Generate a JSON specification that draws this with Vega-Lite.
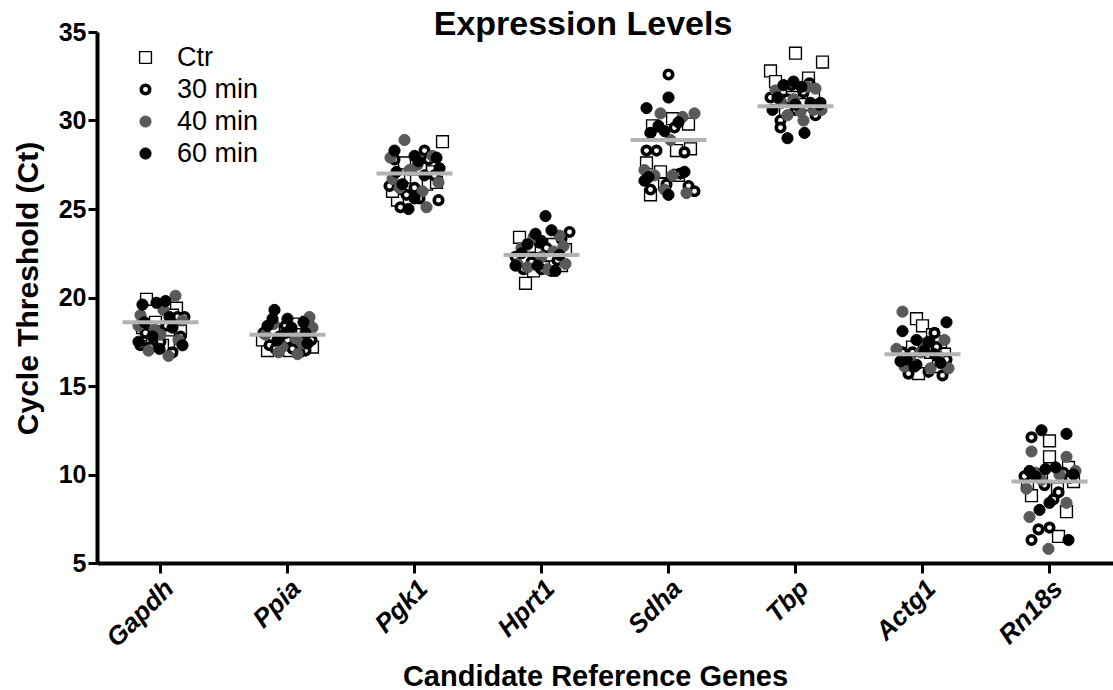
{
  "$schema": "https://vega.github.io/schema/vega-lite/v6.json",
  "autosize": {"type": "none"},
  "padding": {"left": 97, "top": 32, "right": 0, "bottom": 127},
  "width": 1016,
  "height": 531,
  "background": "white",
  "config": {
    "font": "Liberation Sans",
    "view": {"stroke": null},
    "axis": {"grid": false, "domainColor": "black", "tickColor": "black", "labelColor": "black", "titleColor": "black"},
    "legend": {"title": null, "orient": "none", "legendX": 35, "legendY": 12, "labelFontSize": 27, "labelColor": "black", "rowPadding": 4, "labelOffset": 18, "labelFont": "Liberation Sans"}
  },
  "title": {"text": "Expression Levels", "fontSize": 34, "fontWeight": "bold", "font": "Liberation Sans", "color": "black", "anchor": "middle", "frame": "group", "offset": -22, "dx": -22},
  "datasets": {
    "pts": [
      {"g":"Gapdh","t":"Ctr","y":19.9,"j":-14},{"g":"Gapdh","t":"Ctr","y":19.4,"j":16},{"g":"Gapdh","t":"Ctr","y":19.0,"j":12},{"g":"Gapdh","t":"Ctr","y":18.6,"j":-5},{"g":"Gapdh","t":"Ctr","y":17.9,"j":-12},{"g":"Gapdh","t":"Ctr","y":17.5,"j":8},{"g":"Gapdh","t":"Ctr","y":18.3,"j":-18},{"g":"Gapdh","t":"Ctr","y":18.1,"j":20},{"g":"Gapdh","t":"Ctr","y":17.3,"j":2},{"g":"Gapdh","t":"Ctr","y":17.6,"j":-8},
      {"g":"Gapdh","t":"30 min","y":18.9,"j":17},{"g":"Gapdh","t":"30 min","y":17.2,"j":-10},{"g":"Gapdh","t":"30 min","y":17.5,"j":0},{"g":"Gapdh","t":"30 min","y":17.3,"j":-20},{"g":"Gapdh","t":"30 min","y":16.9,"j":12},{"g":"Gapdh","t":"30 min","y":18.1,"j":-2},{"g":"Gapdh","t":"30 min","y":17.8,"j":20},{"g":"Gapdh","t":"30 min","y":18.4,"j":6},{"g":"Gapdh","t":"30 min","y":18.0,"j":-15},{"g":"Gapdh","t":"30 min","y":18.9,"j":24},
      {"g":"Gapdh","t":"40 min","y":20.1,"j":15},{"g":"Gapdh","t":"40 min","y":19.0,"j":-20},{"g":"Gapdh","t":"40 min","y":16.7,"j":8},{"g":"Gapdh","t":"40 min","y":18.2,"j":-6},{"g":"Gapdh","t":"40 min","y":18.4,"j":-22},{"g":"Gapdh","t":"40 min","y":17.6,"j":18},{"g":"Gapdh","t":"40 min","y":19.3,"j":3},{"g":"Gapdh","t":"40 min","y":17.0,"j":-12},{"g":"Gapdh","t":"40 min","y":18.7,"j":22},{"g":"Gapdh","t":"40 min","y":17.9,"j":0},
      {"g":"Gapdh","t":"60 min","y":19.6,"j":-18},{"g":"Gapdh","t":"60 min","y":19.7,"j":-4},{"g":"Gapdh","t":"60 min","y":19.8,"j":5},{"g":"Gapdh","t":"60 min","y":18.3,"j":12},{"g":"Gapdh","t":"60 min","y":17.5,"j":-22},{"g":"Gapdh","t":"60 min","y":17.8,"j":-8},{"g":"Gapdh","t":"60 min","y":17.3,"j":22},{"g":"Gapdh","t":"60 min","y":18.6,"j":-16},{"g":"Gapdh","t":"60 min","y":18.9,"j":9},{"g":"Gapdh","t":"60 min","y":17.1,"j":-1},

      {"g":"Ppia","t":"Ctr","y":17.0,"j":-20},{"g":"Ppia","t":"Ctr","y":17.2,"j":25},{"g":"Ppia","t":"Ctr","y":18.5,"j":8},{"g":"Ppia","t":"Ctr","y":17.4,"j":-6},{"g":"Ppia","t":"Ctr","y":17.9,"j":15},{"g":"Ppia","t":"Ctr","y":18.2,"j":-14},{"g":"Ppia","t":"Ctr","y":17.0,"j":2},{"g":"Ppia","t":"Ctr","y":18.6,"j":20},{"g":"Ppia","t":"Ctr","y":17.6,"j":-25},{"g":"Ppia","t":"Ctr","y":17.3,"j":10},
      {"g":"Ppia","t":"30 min","y":17.3,"j":-18},{"g":"Ppia","t":"30 min","y":17.1,"j":5},{"g":"Ppia","t":"30 min","y":17.8,"j":-8},{"g":"Ppia","t":"30 min","y":17.0,"j":18},{"g":"Ppia","t":"30 min","y":18.4,"j":-2},{"g":"Ppia","t":"30 min","y":17.6,"j":24},{"g":"Ppia","t":"30 min","y":18.0,"j":-24},{"g":"Ppia","t":"30 min","y":16.9,"j":12},{"g":"Ppia","t":"30 min","y":17.6,"j":0},{"g":"Ppia","t":"30 min","y":17.1,"j":-12},
      {"g":"Ppia","t":"40 min","y":16.8,"j":10},{"g":"Ppia","t":"40 min","y":17.9,"j":-22},{"g":"Ppia","t":"40 min","y":18.9,"j":22},{"g":"Ppia","t":"40 min","y":17.2,"j":-5},{"g":"Ppia","t":"40 min","y":17.4,"j":15},{"g":"Ppia","t":"40 min","y":18.5,"j":-14},{"g":"Ppia","t":"40 min","y":18.2,"j":3},{"g":"Ppia","t":"40 min","y":18.3,"j":25},{"g":"Ppia","t":"40 min","y":16.9,"j":-9},{"g":"Ppia","t":"40 min","y":17.7,"j":8},
      {"g":"Ppia","t":"60 min","y":19.3,"j":-13},{"g":"Ppia","t":"60 min","y":18.8,"j":-15},{"g":"Ppia","t":"60 min","y":18.8,"j":0},{"g":"Ppia","t":"60 min","y":18.3,"j":4},{"g":"Ppia","t":"60 min","y":18.6,"j":16},{"g":"Ppia","t":"60 min","y":18.0,"j":18},{"g":"Ppia","t":"60 min","y":18.4,"j":-20},{"g":"Ppia","t":"60 min","y":18.0,"j":-2},{"g":"Ppia","t":"60 min","y":17.4,"j":20},{"g":"Ppia","t":"60 min","y":17.6,"j":-10},

      {"g":"Pgk1","t":"Ctr","y":28.8,"j":28},{"g":"Pgk1","t":"Ctr","y":25.5,"j":-17},{"g":"Pgk1","t":"Ctr","y":27.3,"j":6},{"g":"Pgk1","t":"Ctr","y":26.8,"j":-4},{"g":"Pgk1","t":"Ctr","y":26.4,"j":12},{"g":"Pgk1","t":"Ctr","y":27.6,"j":-10},{"g":"Pgk1","t":"Ctr","y":27.1,"j":18},{"g":"Pgk1","t":"Ctr","y":26.0,"j":-22},{"g":"Pgk1","t":"Ctr","y":26.6,"j":2},{"g":"Pgk1","t":"Ctr","y":26.5,"j":22},
      {"g":"Pgk1","t":"30 min","y":27.8,"j":-20},{"g":"Pgk1","t":"30 min","y":28.3,"j":10},{"g":"Pgk1","t":"30 min","y":25.8,"j":-8},{"g":"Pgk1","t":"30 min","y":25.1,"j":-14},{"g":"Pgk1","t":"30 min","y":25.6,"j":5},{"g":"Pgk1","t":"30 min","y":25.5,"j":24},{"g":"Pgk1","t":"30 min","y":26.2,"j":0},{"g":"Pgk1","t":"30 min","y":27.8,"j":14},{"g":"Pgk1","t":"30 min","y":26.3,"j":-25},{"g":"Pgk1","t":"30 min","y":26.9,"j":20},
      {"g":"Pgk1","t":"40 min","y":28.9,"j":-10},{"g":"Pgk1","t":"40 min","y":27.9,"j":-24},{"g":"Pgk1","t":"40 min","y":28.0,"j":18},{"g":"Pgk1","t":"40 min","y":26.7,"j":-22},{"g":"Pgk1","t":"40 min","y":26.0,"j":8},{"g":"Pgk1","t":"40 min","y":26.5,"j":24},{"g":"Pgk1","t":"40 min","y":25.1,"j":12},{"g":"Pgk1","t":"40 min","y":27.2,"j":-5},{"g":"Pgk1","t":"40 min","y":26.2,"j":-15},{"g":"Pgk1","t":"40 min","y":27.5,"j":3},
      {"g":"Pgk1","t":"60 min","y":28.3,"j":-20},{"g":"Pgk1","t":"60 min","y":28.0,"j":0},{"g":"Pgk1","t":"60 min","y":27.7,"j":4},{"g":"Pgk1","t":"60 min","y":27.9,"j":22},{"g":"Pgk1","t":"60 min","y":27.3,"j":25},{"g":"Pgk1","t":"60 min","y":25.0,"j":-6},{"g":"Pgk1","t":"60 min","y":25.6,"j":0},{"g":"Pgk1","t":"60 min","y":26.4,"j":-12},{"g":"Pgk1","t":"60 min","y":26.9,"j":10},{"g":"Pgk1","t":"60 min","y":27.1,"j":-18},

      {"g":"Hprt1","t":"Ctr","y":23.4,"j":-22},{"g":"Hprt1","t":"Ctr","y":20.8,"j":-16},{"g":"Hprt1","t":"Ctr","y":23.0,"j":12},{"g":"Hprt1","t":"Ctr","y":22.2,"j":-4},{"g":"Hprt1","t":"Ctr","y":22.4,"j":8},{"g":"Hprt1","t":"Ctr","y":21.8,"j":20},{"g":"Hprt1","t":"Ctr","y":22.9,"j":-12},{"g":"Hprt1","t":"Ctr","y":21.7,"j":2},{"g":"Hprt1","t":"Ctr","y":22.7,"j":24},{"g":"Hprt1","t":"Ctr","y":21.5,"j":-8},
      {"g":"Hprt1","t":"30 min","y":23.7,"j":28},{"g":"Hprt1","t":"30 min","y":21.6,"j":-18},{"g":"Hprt1","t":"30 min","y":21.5,"j":10},{"g":"Hprt1","t":"30 min","y":23.1,"j":-2},{"g":"Hprt1","t":"30 min","y":22.1,"j":16},{"g":"Hprt1","t":"30 min","y":22.3,"j":-26},{"g":"Hprt1","t":"30 min","y":22.8,"j":5},{"g":"Hprt1","t":"30 min","y":23.3,"j":20},{"g":"Hprt1","t":"30 min","y":22.0,"j":-10},{"g":"Hprt1","t":"30 min","y":21.6,"j":0},
      {"g":"Hprt1","t":"40 min","y":23.5,"j":18},{"g":"Hprt1","t":"40 min","y":22.8,"j":-20},{"g":"Hprt1","t":"40 min","y":21.6,"j":6},{"g":"Hprt1","t":"40 min","y":23.4,"j":-8},{"g":"Hprt1","t":"40 min","y":21.9,"j":24},{"g":"Hprt1","t":"40 min","y":21.7,"j":-14},{"g":"Hprt1","t":"40 min","y":22.6,"j":12},{"g":"Hprt1","t":"40 min","y":22.3,"j":0},{"g":"Hprt1","t":"40 min","y":21.9,"j":-24},{"g":"Hprt1","t":"40 min","y":22.9,"j":22},
      {"g":"Hprt1","t":"60 min","y":24.6,"j":4},{"g":"Hprt1","t":"60 min","y":23.6,"j":-6},{"g":"Hprt1","t":"60 min","y":23.0,"j":-14},{"g":"Hprt1","t":"60 min","y":23.8,"j":10},{"g":"Hprt1","t":"60 min","y":23.2,"j":0},{"g":"Hprt1","t":"60 min","y":22.5,"j":-20},{"g":"Hprt1","t":"60 min","y":22.4,"j":18},{"g":"Hprt1","t":"60 min","y":21.8,"j":-4},{"g":"Hprt1","t":"60 min","y":21.5,"j":14},{"g":"Hprt1","t":"60 min","y":21.8,"j":-26},

      {"g":"Sdha","t":"Ctr","y":29.7,"j":-16},{"g":"Sdha","t":"Ctr","y":30.1,"j":4},{"g":"Sdha","t":"Ctr","y":29.8,"j":20},{"g":"Sdha","t":"Ctr","y":27.6,"j":-22},{"g":"Sdha","t":"Ctr","y":27.1,"j":-8},{"g":"Sdha","t":"Ctr","y":26.9,"j":10},{"g":"Sdha","t":"Ctr","y":28.4,"j":22},{"g":"Sdha","t":"Ctr","y":26.4,"j":-4},{"g":"Sdha","t":"Ctr","y":25.8,"j":-18},{"g":"Sdha","t":"Ctr","y":28.3,"j":8},
      {"g":"Sdha","t":"30 min","y":32.6,"j":0},{"g":"Sdha","t":"30 min","y":28.3,"j":-22},{"g":"Sdha","t":"30 min","y":28.3,"j":-12},{"g":"Sdha","t":"30 min","y":28.2,"j":16},{"g":"Sdha","t":"30 min","y":26.4,"j":-2},{"g":"Sdha","t":"30 min","y":26.1,"j":-18},{"g":"Sdha","t":"30 min","y":27.0,"j":12},{"g":"Sdha","t":"30 min","y":26.3,"j":20},{"g":"Sdha","t":"30 min","y":26.0,"j":26},{"g":"Sdha","t":"30 min","y":29.6,"j":6},
      {"g":"Sdha","t":"40 min","y":30.4,"j":-8},{"g":"Sdha","t":"40 min","y":30.2,"j":14},{"g":"Sdha","t":"40 min","y":30.4,"j":26},{"g":"Sdha","t":"40 min","y":29.3,"j":-18},{"g":"Sdha","t":"40 min","y":28.9,"j":2},{"g":"Sdha","t":"40 min","y":27.2,"j":-24},{"g":"Sdha","t":"40 min","y":26.9,"j":4},{"g":"Sdha","t":"40 min","y":26.1,"j":-4},{"g":"Sdha","t":"40 min","y":25.9,"j":18},{"g":"Sdha","t":"40 min","y":26.9,"j":-14},
      {"g":"Sdha","t":"60 min","y":31.3,"j":0},{"g":"Sdha","t":"60 min","y":30.7,"j":-22},{"g":"Sdha","t":"60 min","y":29.7,"j":-10},{"g":"Sdha","t":"60 min","y":29.3,"j":-18},{"g":"Sdha","t":"60 min","y":29.4,"j":-4},{"g":"Sdha","t":"60 min","y":29.9,"j":10},{"g":"Sdha","t":"60 min","y":26.6,"j":-24},{"g":"Sdha","t":"60 min","y":26.8,"j":-20},{"g":"Sdha","t":"60 min","y":25.8,"j":0},{"g":"Sdha","t":"60 min","y":27.1,"j":16},

      {"g":"Tbp","t":"Ctr","y":33.8,"j":0},{"g":"Tbp","t":"Ctr","y":33.3,"j":27},{"g":"Tbp","t":"Ctr","y":32.8,"j":-25},{"g":"Tbp","t":"Ctr","y":31.8,"j":-15},{"g":"Tbp","t":"Ctr","y":32.4,"j":13},{"g":"Tbp","t":"Ctr","y":31.3,"j":-3},{"g":"Tbp","t":"Ctr","y":30.9,"j":8},{"g":"Tbp","t":"Ctr","y":31.5,"j":18},{"g":"Tbp","t":"Ctr","y":30.5,"j":-10},{"g":"Tbp","t":"Ctr","y":32.2,"j":-20},
      {"g":"Tbp","t":"30 min","y":30.0,"j":-15},{"g":"Tbp","t":"30 min","y":29.6,"j":-15},{"g":"Tbp","t":"30 min","y":31.2,"j":-8},{"g":"Tbp","t":"30 min","y":31.6,"j":8},{"g":"Tbp","t":"30 min","y":31.0,"j":25},{"g":"Tbp","t":"30 min","y":32.1,"j":14},{"g":"Tbp","t":"30 min","y":31.3,"j":-25},{"g":"Tbp","t":"30 min","y":30.6,"j":0},{"g":"Tbp","t":"30 min","y":30.3,"j":20},{"g":"Tbp","t":"30 min","y":32.0,"j":-4},
      {"g":"Tbp","t":"40 min","y":30.3,"j":-8},{"g":"Tbp","t":"40 min","y":30.5,"j":5},{"g":"Tbp","t":"40 min","y":31.9,"j":12},{"g":"Tbp","t":"40 min","y":31.8,"j":20},{"g":"Tbp","t":"40 min","y":31.7,"j":-20},{"g":"Tbp","t":"40 min","y":31.2,"j":-2},{"g":"Tbp","t":"40 min","y":30.6,"j":26},{"g":"Tbp","t":"40 min","y":31.0,"j":-14},{"g":"Tbp","t":"40 min","y":30.0,"j":8},{"g":"Tbp","t":"40 min","y":30.6,"j":18},
      {"g":"Tbp","t":"60 min","y":29.0,"j":-8},{"g":"Tbp","t":"60 min","y":29.3,"j":9},{"g":"Tbp","t":"60 min","y":30.6,"j":-23},{"g":"Tbp","t":"60 min","y":32.0,"j":-12},{"g":"Tbp","t":"60 min","y":32.2,"j":-2},{"g":"Tbp","t":"60 min","y":31.9,"j":6},{"g":"Tbp","t":"60 min","y":31.0,"j":15},{"g":"Tbp","t":"60 min","y":31.3,"j":-18},{"g":"Tbp","t":"60 min","y":30.9,"j":0},{"g":"Tbp","t":"60 min","y":30.9,"j":24},

      {"g":"Actg1","t":"Ctr","y":18.8,"j":-6},{"g":"Actg1","t":"Ctr","y":18.4,"j":0},{"g":"Actg1","t":"Ctr","y":17.9,"j":10},{"g":"Actg1","t":"Ctr","y":17.5,"j":18},{"g":"Actg1","t":"Ctr","y":16.9,"j":8},{"g":"Actg1","t":"Ctr","y":17.2,"j":-10},{"g":"Actg1","t":"Ctr","y":15.7,"j":-4},{"g":"Actg1","t":"Ctr","y":16.1,"j":16},{"g":"Actg1","t":"Ctr","y":16.8,"j":22},{"g":"Actg1","t":"Ctr","y":16.5,"j":-14},
      {"g":"Actg1","t":"30 min","y":15.7,"j":-14},{"g":"Actg1","t":"30 min","y":15.8,"j":6},{"g":"Actg1","t":"30 min","y":15.6,"j":20},{"g":"Actg1","t":"30 min","y":18.0,"j":12},{"g":"Actg1","t":"30 min","y":17.0,"j":0},{"g":"Actg1","t":"30 min","y":16.9,"j":-20},{"g":"Actg1","t":"30 min","y":16.2,"j":-6},{"g":"Actg1","t":"30 min","y":16.5,"j":24},{"g":"Actg1","t":"30 min","y":16.9,"j":-10},{"g":"Actg1","t":"30 min","y":17.2,"j":14},
      {"g":"Actg1","t":"40 min","y":19.2,"j":-20},{"g":"Actg1","t":"40 min","y":16.0,"j":8},{"g":"Actg1","t":"40 min","y":16.0,"j":26},{"g":"Actg1","t":"40 min","y":17.1,"j":-26},{"g":"Actg1","t":"40 min","y":17.4,"j":2},{"g":"Actg1","t":"40 min","y":16.4,"j":-12},{"g":"Actg1","t":"40 min","y":16.7,"j":16},{"g":"Actg1","t":"40 min","y":16.9,"j":-2},{"g":"Actg1","t":"40 min","y":17.6,"j":22},{"g":"Actg1","t":"40 min","y":16.1,"j":-18},
      {"g":"Actg1","t":"60 min","y":18.6,"j":24},{"g":"Actg1","t":"60 min","y":18.1,"j":-20},{"g":"Actg1","t":"60 min","y":16.5,"j":-16},{"g":"Actg1","t":"60 min","y":17.6,"j":-6},{"g":"Actg1","t":"60 min","y":17.0,"j":2},{"g":"Actg1","t":"60 min","y":16.8,"j":12},{"g":"Actg1","t":"60 min","y":16.4,"j":-22},{"g":"Actg1","t":"60 min","y":16.1,"j":-8},{"g":"Actg1","t":"60 min","y":16.3,"j":18},{"g":"Actg1","t":"60 min","y":17.5,"j":6},

      {"g":"Rn18s","t":"Ctr","y":11.9,"j":0},{"g":"Rn18s","t":"Ctr","y":11.0,"j":0},{"g":"Rn18s","t":"Ctr","y":10.4,"j":19},{"g":"Rn18s","t":"Ctr","y":8.8,"j":-18},{"g":"Rn18s","t":"Ctr","y":7.9,"j":17},{"g":"Rn18s","t":"Ctr","y":6.5,"j":9},{"g":"Rn18s","t":"Ctr","y":10.0,"j":-8},{"g":"Rn18s","t":"Ctr","y":9.6,"j":24},{"g":"Rn18s","t":"Ctr","y":9.2,"j":8},{"g":"Rn18s","t":"Ctr","y":9.5,"j":-22},
      {"g":"Rn18s","t":"30 min","y":12.1,"j":-18},{"g":"Rn18s","t":"30 min","y":9.0,"j":9},{"g":"Rn18s","t":"30 min","y":6.9,"j":-11},{"g":"Rn18s","t":"30 min","y":7.0,"j":0},{"g":"Rn18s","t":"30 min","y":6.3,"j":-18},{"g":"Rn18s","t":"30 min","y":9.4,"j":-5},{"g":"Rn18s","t":"30 min","y":9.8,"j":20},{"g":"Rn18s","t":"30 min","y":9.9,"j":-25},{"g":"Rn18s","t":"30 min","y":10.1,"j":14},{"g":"Rn18s","t":"30 min","y":8.6,"j":4},
      {"g":"Rn18s","t":"40 min","y":11.3,"j":-18},{"g":"Rn18s","t":"40 min","y":11.0,"j":17},{"g":"Rn18s","t":"40 min","y":9.2,"j":-23},{"g":"Rn18s","t":"40 min","y":8.4,"j":17},{"g":"Rn18s","t":"40 min","y":7.6,"j":-20},{"g":"Rn18s","t":"40 min","y":5.8,"j":-1},{"g":"Rn18s","t":"40 min","y":10.0,"j":10},{"g":"Rn18s","t":"40 min","y":9.7,"j":-8},{"g":"Rn18s","t":"40 min","y":10.2,"j":26},{"g":"Rn18s","t":"40 min","y":10.1,"j":-14},
      {"g":"Rn18s","t":"60 min","y":12.5,"j":-8},{"g":"Rn18s","t":"60 min","y":12.3,"j":17},{"g":"Rn18s","t":"60 min","y":8.4,"j":0},{"g":"Rn18s","t":"60 min","y":8.0,"j":-10},{"g":"Rn18s","t":"60 min","y":6.3,"j":19},{"g":"Rn18s","t":"60 min","y":10.2,"j":-20},{"g":"Rn18s","t":"60 min","y":10.3,"j":-4},{"g":"Rn18s","t":"60 min","y":10.4,"j":6},{"g":"Rn18s","t":"60 min","y":10.0,"j":24},{"g":"Rn18s","t":"60 min","y":9.9,"j":-14}
    ],
    "means": [
      {"g":"Gapdh","m":18.6},{"g":"Ppia","m":17.9},{"g":"Pgk1","m":27.0},{"g":"Hprt1","m":22.4},
      {"g":"Sdha","m":28.9},{"g":"Tbp","m":30.8},{"g":"Actg1","m":16.8},{"g":"Rn18s","m":9.6}
    ]
  },
  "layer": [
    {
      "data": {"name": "pts"},
      "mark": {"type": "point", "opacity": 1, "filled": false},
      "encoding": {
        "x": {
          "field": "g", "type": "nominal",
          "scale": {"domain": ["Gapdh","Ppia","Pgk1","Hprt1","Sdha","Tbp","Actg1","Rn18s"], "paddingInner": 0, "paddingOuter": 0},
          "axis": {
            "title": "Candidate Reference Genes", "titleFontSize": 29, "titleFontWeight": "bold",
            "titleX": 498, "titleY": 122, "titleAlign": "center", "titleBaseline": "alphabetic",
            "labelAngle": -45, "labelFontSize": 26, "labelFontWeight": "bold", "labelFontStyle": "italic",
            "labelAlign": "right", "labelBaseline": "top", "labelPadding": 2,
            "domainWidth": 4, "tickWidth": 3, "tickSize": 10
          }
        },
        "xOffset": {"field": "j", "type": "quantitative", "scale": {"domain": [-63.5, 63.5]}},
        "y": {
          "field": "y", "type": "quantitative",
          "scale": {"domain": [5, 35], "nice": false, "zero": false},
          "axis": {
            "title": "Cycle Threshold (Ct)", "titleFontSize": 30, "titleFontWeight": "bold",
            "titleX": -60, "titleY": 256, "titleAlign": "center", "titleBaseline": "alphabetic", "titleAngle": -90,
            "values": [5,10,15,20,25,30,35], "labelFontSize": 25, "labelFontWeight": "bold", "labelPadding": 2,
            "domainWidth": 4, "tickWidth": 3, "tickSize": 9
          }
        },
        "shape": {
          "field": "t", "type": "nominal",
          "scale": {"domain": ["Ctr","30 min","40 min","60 min"], "range": ["square","circle","circle","circle"]}
        },
        "size": {
          "field": "t", "type": "nominal",
          "scale": {"type": "ordinal", "domain": ["Ctr","30 min","40 min","60 min"], "range": [140, 72, 125, 125]}
        },
        "fill": {
          "field": "t", "type": "nominal",
          "scale": {"domain": ["Ctr","30 min","40 min","60 min"], "range": ["white","white","#595959","black"]}
        },
        "stroke": {
          "field": "t", "type": "nominal",
          "scale": {"domain": ["Ctr","30 min","40 min","60 min"], "range": ["black","black","#595959","black"]}
        },
        "strokeWidth": {
          "field": "t", "type": "nominal",
          "scale": {"type": "ordinal", "domain": ["Ctr","30 min","40 min","60 min"], "range": [1.4, 3.6, 1, 1]}
        }
      }
    },
    {
      "data": {"name": "means"},
      "mark": {"type": "tick", "color": "#b3b3b3", "thickness": 4, "size": 76, "opacity": 1},
      "encoding": {
        "x": {"field": "g", "type": "nominal"},
        "y": {"field": "m", "type": "quantitative"}
      }
    }
  ]
}
